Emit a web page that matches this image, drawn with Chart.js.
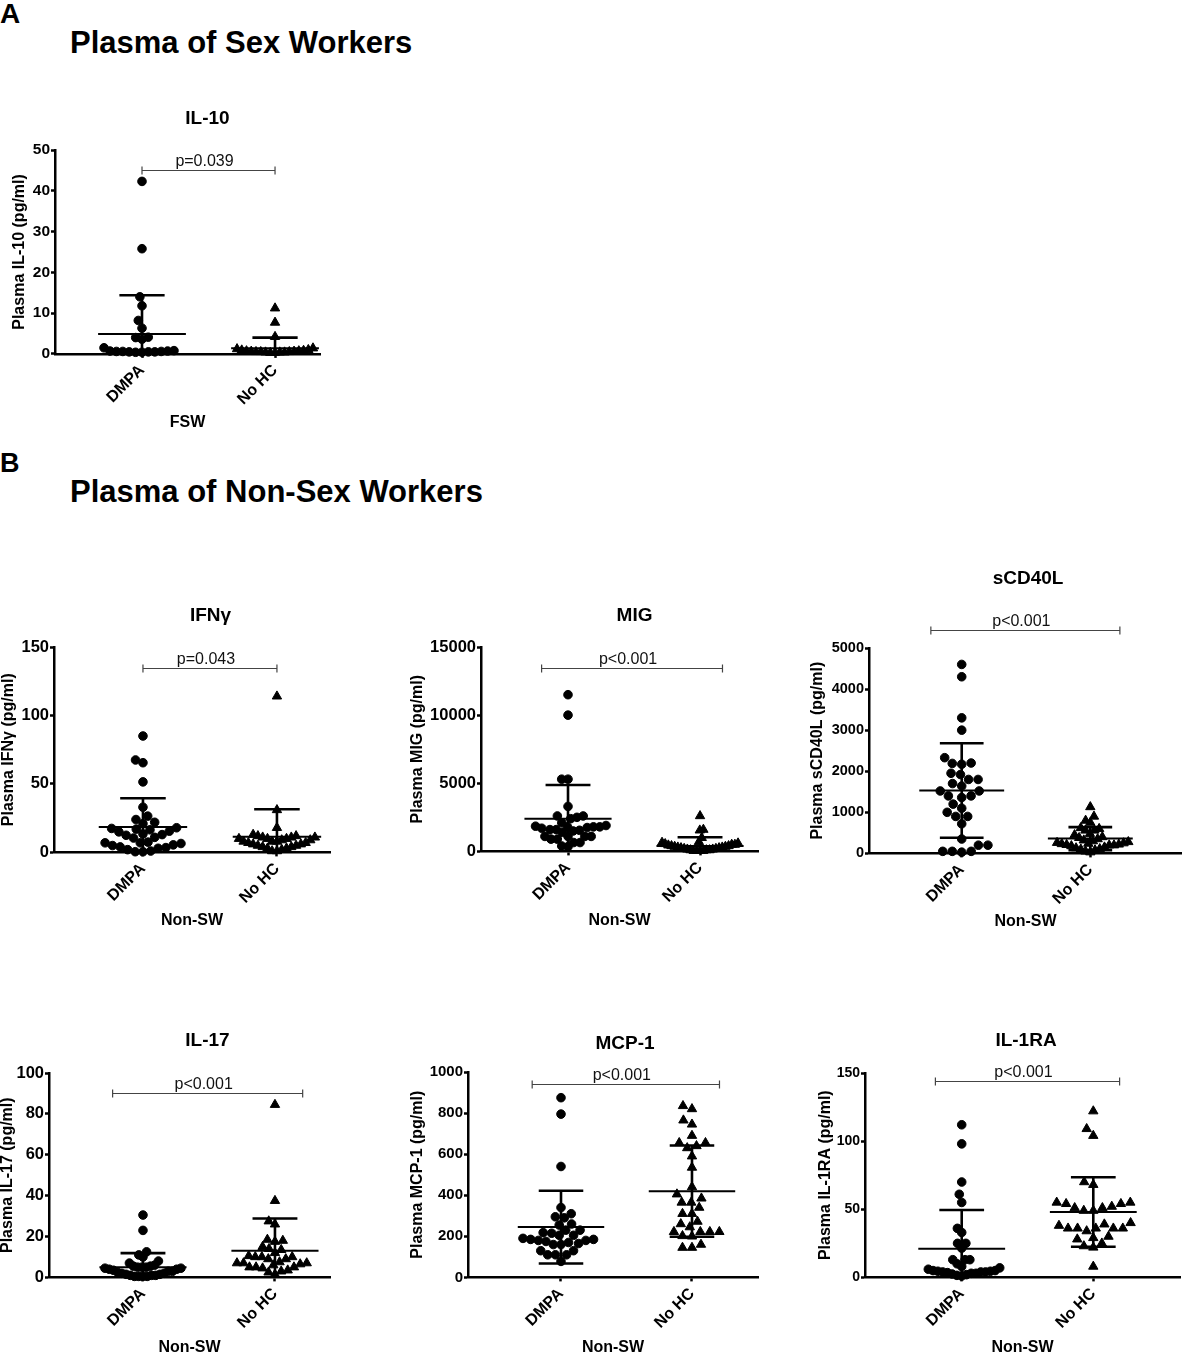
<!DOCTYPE html>
<html>
<head>
<meta charset="utf-8">
<script src="https://cdn.jsdelivr.net/npm/chart.js@4.4.1/dist/chart.umd.min.js"></script>
<style>
  body { margin: 0; width: 1182px; height: 1352px; overflow: hidden; background: #fff; position: relative; font-family: 'Liberation Sans', Arial, sans-serif; }
  .lbl { position: absolute; font-weight: bold; line-height: 1; color: #000; white-space: nowrap; }
  canvas { position: absolute; }
</style>
</head>
<body>
<div class="lbl" style="left:0;top:0;font-size:28px">A</div>
<div class="lbl" style="left:70px;top:27px;font-size:31px">Plasma of Sex Workers</div>
<div class="lbl" style="left:0;top:450px;font-size:27px">B</div>
<div class="lbl" style="left:70px;top:476px;font-size:31px">Plasma of Non-Sex Workers</div>
<script>
'use strict';

const groups = ['DMPA', 'No HC'];
const pValues = ['p=0.039', 'p=0.043', 'p<0.001', 'p<0.001', 'p<0.001', 'p<0.001', 'p<0.001'];

// A: FSW
const il10Dmpa = [42.3, 25.8, 14, 11.8, 8.2, 6.3, 4.1, 4, 3.6, 1.5, 0.8, 0.7, 0.7, 0.6, 0.6, 0.6, 0.5, 0.5, 0.5, 0.4, 0.4];
const il10NoHc = [11.2, 7.7, 4.2, 1.4, 1.2, 1, 0.9, 0.8, 0.7, 0.7, 0.6, 0.6, 0.5, 0.5, 0.5, 0.4, 0.4, 0.4, 0.3, 0.3];
const il10Mean = [4.9, 1.4];
const il10Sd = [9.5, 2.6];

// B: Non-SW
const ifngDmpa = [85, 67.5, 65.5, 51.5, 33, 26.5, 24, 22, 21, 18, 17.5, 17, 16.5, 15.5, 15, 13.5, 13, 12.5, 11, 10.5, 7.5, 7, 7, 6.5, 5.5, 5, 4, 3.5, 3, 2, 1, 0.5, 0.5];
const ifngNoHc = [114, 31, 18, 13, 12, 12, 11, 11, 11, 10, 10, 10, 9, 9, 8, 8, 8, 7, 7, 6, 6, 5, 5, 4, 4, 3, 3, 2, 1, 1];
const ifngMean = [18.5, 11.5];
const ifngSd = [21, 20];

const migDmpa = [11500, 10000, 5300, 5300, 3300, 2600, 2600, 2500, 2400, 2100, 1900, 1850, 1800, 1800, 1800, 1750, 1700, 1600, 1600, 1550, 1500, 1400, 1100, 1100, 1100, 1100, 900, 900, 650, 650, 400, 350];
const migNoHc = [2600, 1600, 1550, 1000, 700, 650, 600, 550, 500, 500, 450, 400, 400, 350, 350, 300, 300, 250, 250, 200, 200, 150, 150, 100, 100, 100, 50, 50, 50, 50];
const migMean = [2400, 400];
const migSd = [2470, 640];

const cd40Dmpa = [4600, 4300, 3300, 3000, 2330, 2200, 2190, 2170, 1950, 1920, 1800, 1800, 1700, 1640, 1520, 1520, 1400, 1400, 1360, 1200, 1100, 1000, 900, 900, 720, 350, 200, 200, 50, 50, 50, 30];
const cd40NoHc = [1130, 900, 800, 750, 620, 600, 560, 560, 480, 450, 400, 380, 350, 320, 300, 280, 260, 250, 240, 230, 220, 210, 200, 200, 180, 150, 130, 110, 100, 80, 50, 30];
const cd40Mean = [1530, 360];
const cd40Sd = [1150, 280];

const il17Dmpa = [30.5, 23, 12.5, 11, 10, 8, 7, 6, 5.5, 5.5, 5, 5, 5, 4.5, 4.5, 4, 4, 3.5, 3, 3, 2.5, 2, 2, 1.5, 1.5, 1, 1, 1, 0.5, 0.5, 0.5, 0.5];
const il17NoHc = [84.5, 37.5, 27.5, 26, 18.5, 18, 17.5, 15, 14, 13.5, 12, 10.5, 10, 10, 10, 9, 9, 7.5, 7, 7, 7, 6.5, 6, 5, 5, 5, 4.5, 3.5, 3, 2.5, 1.5];
const il17Mean = [5, 13];
const il17Sd = [6.9, 15.8];

const mcpDmpa = [875, 795, 540, 340, 310, 295, 290, 260, 255, 230, 230, 218, 215, 205, 205, 190, 185, 185, 180, 180, 175, 170, 165, 160, 160, 130, 130, 110, 110, 110, 78];
const mcpNoHc = [835, 820, 765, 745, 690, 655, 655, 640, 630, 590, 535, 440, 405, 385, 365, 365, 340, 310, 310, 272, 260, 245, 222, 222, 222, 222, 202, 200, 160, 145, 145];
const mcpMean = [245, 420];
const mcpSd = [177, 222];

const il1raDmpa = [112, 98, 70, 61, 55, 36, 33, 25, 25, 21.5, 13, 13, 13, 10, 8, 7, 6, 5, 5, 4.5, 4.5, 4, 4, 4, 3.5, 3, 3, 2.5, 2, 1.5, 1];
const il1raNoHc = [122, 109, 104, 70, 68, 55, 55, 54, 54, 52, 51, 51, 49, 49, 40, 39, 38, 36, 36, 36, 36, 36, 34, 30, 29, 28, 25, 23, 22, 8];
const il1raMean = [21, 48];
const il1raSd = [28.5, 25.5];

const FONT = "'Liberation Sans', Arial, sans-serif";
Chart.defaults.font.family = FONT;
Chart.defaults.color = '#000';

// page layout of every panel (axis box, title centres, x range, bracket)
const panels = [
  { title: 'IL-10', yTitle: 'Plasma IL-10 (pg/ml)', xTitle: 'FSW', values: [il10Dmpa, il10NoHc], mean: il10Mean, sd: il10Sd, p: pValues[0],
    axL: 55, axT: 150, axR: 320, axB: 354, titleX: 207.5, titleY: 118.5, yTitleX: 19.5, xTitleY: 422.5,
    xMin: 0.346, xMax: 2.338, yMax: 50, step: 10, tick: 15.5, br: [45, 1, 2] },
  { title: 'IFNγ', yTitle: 'Plasma IFNγ (pg/ml)', xTitle: 'Non-SW', values: [ifngDmpa, ifngNoHc], mean: ifngMean, sd: ifngSd, p: pValues[1],
    axL: 54, axT: 647, axR: 330, axB: 852, titleX: 210.5, titleY: 615, yTitleX: 8.5, xTitleY: 920,
    xMin: 0.336, xMax: 2.396, yMax: 150, step: 50, tick: 16.5, br: [135, 1, 2] },
  { title: 'MIG', yTitle: 'Plasma MIG (pg/ml)', xTitle: 'Non-SW', values: [migDmpa, migNoHc], mean: migMean, sd: migSd, p: pValues[2],
    axL: 481, axT: 647, axR: 758, axB: 851, titleX: 634.5, titleY: 615, yTitleX: 417.5, xTitleY: 920,
    xMin: 0.341, xMax: 2.439, yMax: 15000, step: 5000, tick: 16.5, br: [13450, 0.8, 2.17] },
  { title: 'sCD40L', yTitle: 'Plasma sCD40L (pg/ml)', xTitle: 'Non-SW', values: [cd40Dmpa, cd40NoHc], mean: cd40Mean, sd: cd40Sd, p: pValues[3],
    axL: 869, axT: 648, axR: 1182, axB: 853, titleX: 1028, titleY: 578, yTitleX: 817.5, xTitleY: 921,
    xMin: 0.279, xMax: 2.713, yMax: 5000, step: 1000, tick: 14.5, br: [5440, 0.76, 2.23] },
  { title: 'IL-17', yTitle: 'Plasma IL-17 (pg/ml)', xTitle: 'Non-SW', values: [il17Dmpa, il17NoHc], mean: il17Mean, sd: il17Sd, p: pValues[4],
    axL: 49, axT: 1073, axR: 330, axB: 1277, titleX: 207.5, titleY: 1040, yTitleX: 7.5, xTitleY: 1347,
    xMin: 0.288, xMax: 2.417, yMax: 100, step: 20, tick: 16.5, br: [90, 0.77, 2.21] },
  { title: 'MCP-1', yTitle: 'Plasma MCP-1 (pg/ml)', xTitle: 'Non-SW', values: [mcpDmpa, mcpNoHc], mean: mcpMean, sd: mcpSd, p: pValues[5],
    axL: 468, axT: 1072, axR: 758, axB: 1277, titleX: 625, titleY: 1043, yTitleX: 417.5, xTitleY: 1347,
    xMin: 0.29, xMax: 2.504, yMax: 1000, step: 200, tick: 15, br: [941, 0.78, 2.21] },
  { title: 'IL-1RA', yTitle: 'Plasma IL-1RA (pg/ml)', xTitle: 'Non-SW', values: [il1raDmpa, il1raNoHc], mean: il1raMean, sd: il1raSd, p: pValues[6],
    axL: 865, axT: 1073, axR: 1180, axB: 1277, titleX: 1026, titleY: 1040, yTitleX: 826, xTitleY: 1347,
    xMin: 0.265, xMax: 2.659, yMax: 150, step: 50, tick: 14, br: [144, 0.8, 2.2] }
];

// simple beeswarm: place each point as close to the column centre as it can go
function swarm(ys, d) {
  const order = ys.map((y, i) => i).sort((a, b) => ys[b] - ys[a]);
  const placed = [];
  const out = new Array(ys.length).fill(0);
  order.forEach(i => {
    const y = ys[i];
    const blocks = [];
    placed.forEach(p => {
      const dy = Math.abs(p.y - y);
      if (dy < d) {
        const dx = Math.sqrt(d * d - dy * dy);
        blocks.push([p.x - dx, p.x + dx]);
      }
    });
    const cands = [0];
    blocks.forEach(b => cands.push(b[0], b[1]));
    cands.sort((a, b) => Math.abs(a) - Math.abs(b));
    let x = 0;
    for (const c of cands) {
      if (blocks.every(b => c <= b[0] + 1e-6 || c >= b[1] - 1e-6)) { x = c; break; }
    }
    out[i] = x;
    placed.push({ x, y });
  });
  return out;
}

const swarmPlugin = {
  id: 'swarm',
  afterDatasetsUpdate(chart) {
    chart.data.datasets.forEach((ds, i) => {
      const pts = chart.getDatasetMeta(i).data;
      const offs = swarm(pts.map(p => p.y), 9.5);
      const widest = Math.max(1, ...offs.map(Math.abs));
      const k = widest > 38 ? 38 / widest : 1;
      pts.forEach((p, j) => { p.x += offs[j] * k; });
    });
  }
};

function statsPlugin(means, sds) {
  return {
    id: 'stats',
    afterDatasetsDraw(chart) {
      const { ctx, chartArea, scales: { x, y } } = chart;
      ctx.save();
      ctx.strokeStyle = '#000';
      means.forEach((m, i) => {
        const cx = x.getPixelForValue(i + 1);
        const meanHalf = x.getPixelForValue(i + 1.33) - cx;
        const capHalf = x.getPixelForValue(i + 1.17) - cx;
        const low = m - sds[i];
        const yMean = y.getPixelForValue(m);
        const yTop = y.getPixelForValue(m + sds[i]);
        const yLow = Math.min(y.getPixelForValue(Math.max(low, 0)), chartArea.bottom);
        ctx.lineWidth = 2.6;
        ctx.beginPath();
        ctx.moveTo(cx, yTop); ctx.lineTo(cx, yLow);
        ctx.moveTo(cx - capHalf, yTop); ctx.lineTo(cx + capHalf, yTop);
        if (low > 0) { ctx.moveTo(cx - capHalf, yLow); ctx.lineTo(cx + capHalf, yLow); }
        ctx.stroke();
        ctx.lineWidth = 2;
        ctx.beginPath();
        ctx.moveTo(cx - meanHalf, yMean); ctx.lineTo(cx + meanHalf, yMean);
        ctx.stroke();
      });
      ctx.restore();
    }
  };
}

function bracketPlugin(text, level, from, to) {
  return {
    id: 'bracket',
    afterDraw(chart) {
      const { ctx, scales: { x, y } } = chart;
      const yy = Math.round(y.getPixelForValue(level)) + 0.5;
      const x0 = x.getPixelForValue(from);
      const x1 = x.getPixelForValue(to);
      ctx.save();
      ctx.strokeStyle = '#444';
      ctx.lineWidth = 1.2;
      ctx.beginPath();
      ctx.moveTo(x0, yy); ctx.lineTo(x1, yy);
      ctx.moveTo(x0, yy - 4); ctx.lineTo(x0, yy + 4);
      ctx.moveTo(x1, yy - 4); ctx.lineTo(x1, yy + 4);
      ctx.stroke();
      ctx.fillStyle = '#111';
      ctx.font = '16px ' + FONT;
      ctx.textAlign = 'center';
      ctx.textBaseline = 'alphabetic';
      ctx.fillText(text, (x0 + x1) / 2 - 4, yy - 5);
      ctx.restore();
    }
  };
}

function makeChart(p) {
  const left = Math.round(p.yTitleX - 9.6);
  const top = Math.round(p.titleY - 11.4);
  const width = Math.round(2 * (p.titleX - left));
  const yW = p.axL - left;
  const padW = width - (p.axR - left);
  const xH = p.xTitleY + 9.6 - p.axB;
  const height = Math.round(p.axB + xH - top);
  const titlePad = p.axT - top - 22.8;

  const canvas = document.createElement('canvas');
  canvas.width = width;
  canvas.height = height;
  canvas.style.left = left + 'px';
  canvas.style.top = top + 'px';
  document.body.appendChild(canvas);

  const titleFont = { size: 16, weight: 'bold', lineHeight: 1.2 };
  const axisGrid = { drawOnChartArea: false, tickLength: 4, tickWidth: 2.5, tickColor: '#000' };
  const axisBorder = { color: '#000', width: 2.5 };

  return new Chart(canvas, {
    type: 'scatter',
    data: {
      datasets: [{
        label: groups[0],
        data: p.values[0].map(v => ({ x: 1, y: v })),
        yAxisID: 'y',
        pointStyle: 'circle',
        pointRadius: 4.3,
        backgroundColor: '#000',
        borderColor: '#000',
        borderWidth: 1,
        clip: false
      }, {
        label: groups[1],
        data: p.values[1].map(v => ({ x: 2, y: v })),
        yAxisID: 'y',
        pointStyle: 'triangle',
        pointRadius: 5.4,
        backgroundColor: '#000',
        borderColor: '#000',
        borderWidth: 1,
        clip: false
      }]
    },
    options: {
      responsive: false,
      animation: false,
      events: [],
      layout: { padding: 0 },
      plugins: {
        legend: { display: false },
        tooltip: { enabled: false },
        title: {
          display: true,
          text: p.title,
          color: '#000',
          font: { size: 19, weight: 'bold', lineHeight: 1.2 },
          padding: { top: 0, bottom: titlePad }
        }
      },
      scales: {
        x: {
          type: 'linear',
          min: p.xMin,
          max: p.xMax,
          afterBuildTicks: s => { s.ticks = [{ value: 1 }, { value: 2 }]; },
          afterFit: s => { s.height = xH; },
          ticks: {
            callback: v => groups[v - 1],
            minRotation: 45,
            maxRotation: 45,
            autoSkip: false,
            padding: 3,
            color: '#000',
            font: { size: 16, weight: 'bold' }
          },
          grid: axisGrid,
          border: axisBorder,
          title: { display: true, text: p.xTitle, color: '#000', font: titleFont, padding: 0 }
        },
        y: {
          type: 'linear',
          min: 0,
          max: p.yMax,
          afterFit: s => { s.width = yW; },
          ticks: { stepSize: p.step, callback: v => String(v), padding: 1, color: '#000', font: { size: p.tick, weight: 'bold' } },
          grid: axisGrid,
          border: axisBorder,
          title: { display: true, text: p.yTitle, color: '#000', font: titleFont, padding: 0 }
        },
        pad: {
          type: 'linear',
          position: 'right',
          display: true,
          ticks: { display: false },
          grid: { display: false },
          border: { display: false },
          afterFit: s => { s.width = padW; }
        }
      }
    },
    plugins: [swarmPlugin, statsPlugin(p.mean, p.sd), bracketPlugin(p.p, p.br[0], p.br[1], p.br[2])]
  });
}

panels.forEach(makeChart);
</script>
</body>
</html>
